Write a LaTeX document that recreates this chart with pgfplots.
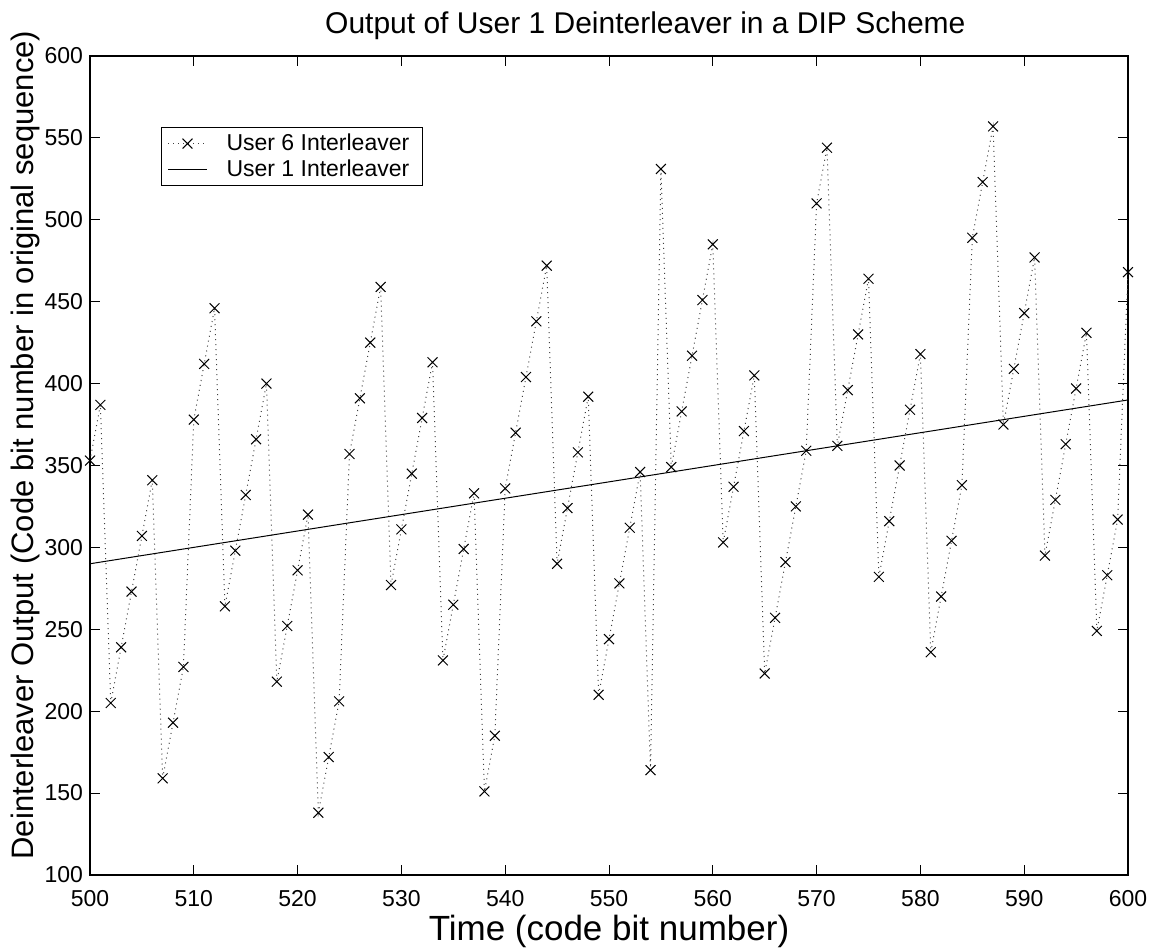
\documentclass[border=0pt]{standalone}
\usepackage{fontspec}
\setmainfont{Liberation Sans}
\usepackage{pgfplots}
\usepackage{pgfplotstable}
\pgfplotsset{compat=1.18}
\usetikzlibrary{calc}

\pgfplotstableread{
x y
500 353
501 387
502 205
503 239
504 273
505 307
506 341
507 159
508 193
509 227
510 378
511 412
512 446
513 264
514 298
515 332
516 366
517 400
518 218
519 252
520 286
521 320
522 138
523 172
524 206
525 357
526 391
527 425
528 459
529 277
530 311
531 345
532 379
533 413
534 231
535 265
536 299
537 333
538 151
539 185
540 336
541 370
542 404
543 438
544 472
545 290
546 324
547 358
548 392
549 210
550 244
551 278
552 312
553 346
554 164
555 531
556 349
557 383
558 417
559 451
560 485
561 303
562 337
563 371
564 405
565 223
566 257
567 291
568 325
569 359
570 510
571 544
572 362
573 396
574 430
575 464
576 282
577 316
578 350
579 384
580 418
581 236
582 270
583 304
584 338
585 489
586 523
587 557
588 375
589 409
590 443
591 477
592 295
593 329
594 363
595 397
596 431
597 249
598 283
599 317
600 468
}\deint

\begin{document}
\begin{tikzpicture}
\begin{axis}[
  name=ax,
  width=519pt, height=409.5pt, scale only axis,
  xmin=500, xmax=600, ymin=100, ymax=600,
  xtick={500,510,...,600}, ytick={100,150,...,600},
  tick align=inside, major tick length=5pt,
  tick style={line width=0.5pt, black},
  axis line style={line width=1pt},
  /pgf/number format/assume math mode=true,
  /pgf/number format/1000 sep={},
  ticklabel style={font=\fontsize{11.5}{13}\selectfont},
  xticklabel style={anchor=base, yshift=-16pt},
  yticklabel style={anchor=east},
  clip mode=individual,
  title={Output of User 1 Deinterleaver in a DIP Scheme},
  title style={at={(axis description cs:0.535,1.0122)}, anchor=base, font=\fontsize{15}{18}\selectfont},
  xlabel={Time (code bit number)},
  xlabel style={at={(axis description cs:0.5,-0.0794)}, anchor=base, font=\fontsize{17.5}{20}\selectfont},
  ylabel={Deinterleaver Output (Code bit number in original sequence)},
  ylabel style={at={(axis description cs:-0.0549,0.525)}, anchor=base, font=\fontsize{15.5}{18}\selectfont},
  legend style={at={(axis description cs:0.0684,0.913)}, anchor=north west,
    draw=black, line width=0.5pt, fill=white,
    font=\fontsize{11.5}{13}\selectfont,
    inner xsep=3pt, inner ysep=1.5pt, row sep=0pt, column sep=6pt,
    nodes={inner xsep=3.5pt, inner ysep=1.5pt},
    cells={anchor=west}},
  legend image code/.code={\draw[mark repeat=2,mark phase=2,#1] plot coordinates {(0pt,0pt) (9.75pt,0pt) (19.5pt,0pt)};},
]
\addplot[black!75, line width=0.5pt, dash pattern=on 0.5pt off 2pt,
  mark=x, mark size=3.5pt, mark options={solid, black, line width=0.5pt}]
  table[x=x, y=y] {\deint};
\addlegendentry{User 6 Interleaver}
\addplot[black, line width=0.5pt] coordinates {(500,290) (600,390)};
\addlegendentry{User 1 Interleaver}
\end{axis}
\pgfresetboundingbox
\path[use as bounding box] ($(ax.south west)+(-45pt,-38.5pt)$) rectangle ($(ax.north east)+(14.5pt,28pt)$);
\end{tikzpicture}
\end{document}
